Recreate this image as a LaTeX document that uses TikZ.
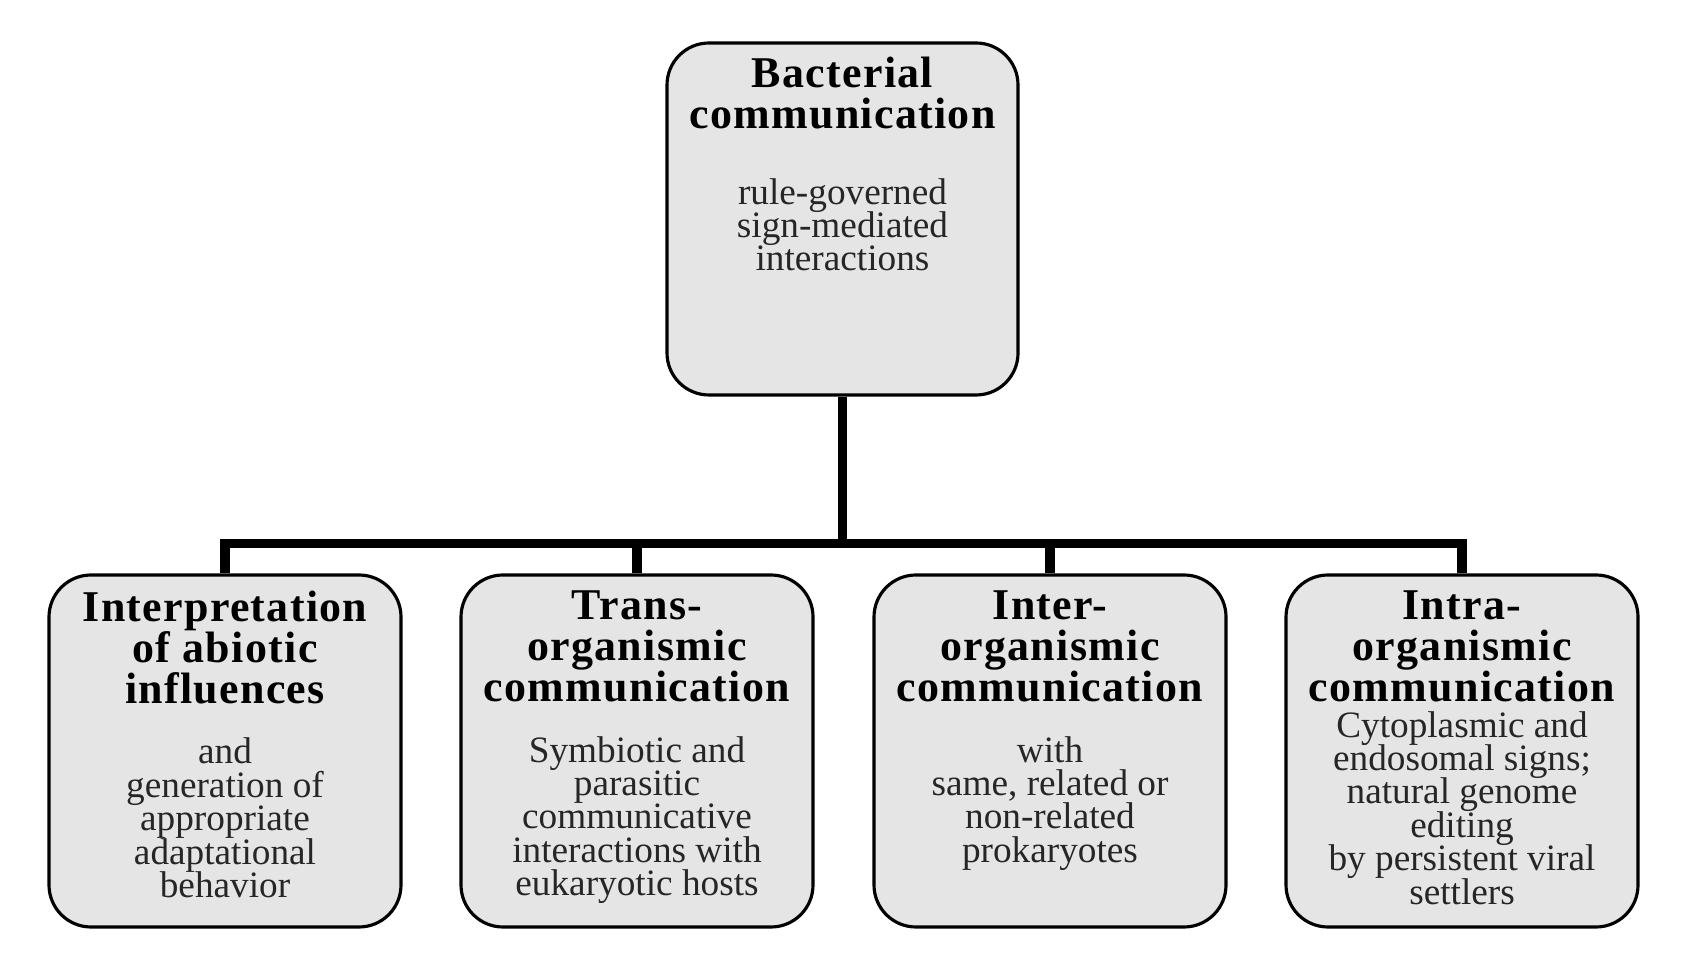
\documentclass[tikz,border=0pt]{standalone}
\usepackage{fontspec}
\setmainfont{Liberation Serif}
\newfontfamily\headfont[LetterSpace=3]{Liberation Serif}
\newcommand\headtext{\headfont\fontsize{12.5}{11.6}\selectfont\bfseries\lineskiplimit=-20pt\relax}
\newcommand\bodytext{\fontsize{10.6}{9.5}\selectfont\lineskiplimit=-20pt\relax}
\usetikzlibrary{calc,positioning}
\tikzset{
    box/.style={draw=black,line width=0.9pt,rounded corners=0.42cm,fill=black!10,minimum width=3.52cm,minimum height=3.52cm,inner sep=0pt},
    head/.style={anchor=north,align=center,inner sep=0pt,font=\headtext},
    body/.style={anchor=north,align=center,inner sep=0pt,text=black!85,font=\bodytext},
    link/.style={black,line width=2.6pt}
}

\begin{document}
\begin{tikzpicture}
\useasboundingbox (0,0) rectangle (16.86,-9.71);
\node[box,minimum width=3.51cm] (bact) at (8.425,-2.19) {};
\node[box] (abiotic) at (2.25,-7.51) {};
\node[box] (trans) at (6.37,-7.51) {};
\node[box] (inter) at (10.50,-7.51) {};
\node[box] (intra) at (14.62,-7.51) {};

% titles
\node[head] (bactT) at ($(bact.north)+(0,-0.15)$) {Bacterial\\communication};
\node[head] (abioticT) at ($(abiotic.north)+(0,-0.17)$) {Interpretation\\of abiotic\\influences};
\node[head] (transT) at ($(trans.north)+(0,-0.17)$) {Trans-\\organismic\\communication};
\node[head] (interT) at ($(inter.north)+(0,-0.17)$) {Inter-\\organismic\\communication};
\node[head] (intraT) at ($(intra.north)+(0,-0.17)$) {Intra-\\organismic\\communication};

% texts
\node[body,below=0.48cm of bactT] (bactB) {rule-governed\\sign-mediated\\interactions};
\node[body,below=0.33cm of abioticT] (abioticB) {and\\generation of\\appropriate\\adaptational\\behavior};
\node[body,below=0.33cm of transT] (transB) {Symbiotic and\\parasitic\\communicative\\interactions with\\eukaryotic hosts};
\node[body,below=0.33cm of interT] (interB) {with\\same, related or\\non-related\\prokaryotes};
\node[body,below=0.08cm of intraT] (intraB) {Cytoplasmic and\\endosomal signs;\\natural genome\\editing\\by persistent viral\\settlers};

% tree
\coordinate (hub) at ($(bact.south)+(0,-1.47)$);
\draw[link] (bact.south) -- (hub);
\foreach \c in {abiotic,trans,inter,intra}
    \draw[link] (hub) -| (\c.north);
\end{tikzpicture}
\end{document}
